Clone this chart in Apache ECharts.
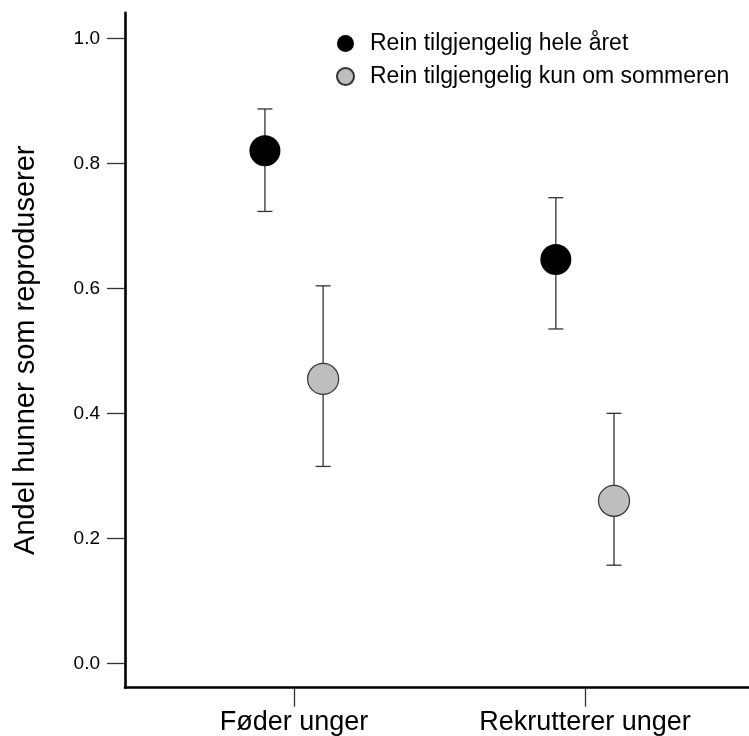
<!DOCTYPE html>
<html>
<head>
<meta charset="utf-8">
<script src="https://cdn.jsdelivr.net/npm/echarts@6/dist/echarts.min.js"></script>
<style>html,body{margin:0;padding:0;background:#fff}#c{width:749px;height:736px}</style>
</head>
<body>
<div id="c"></div>
<script>
const categories = ["Føder unger", "Rekrutterer unger"];
const seriesNames = ["Rein tilgjengelig hele året", "Rein tilgjengelig kun om sommeren"];
const yearRoundMean = [0.82, 0.646];
const yearRoundLower = [0.723, 0.535];
const yearRoundUpper = [0.887, 0.745];
const summerMean = [0.455, 0.26];
const summerLower = [0.315, 0.157];
const summerUpper = [0.604, 0.40];
const yTicks = [0.0, 0.2, 0.4, 0.6, 0.8, 1.0];
const dodge = 0.1;

const chart = echarts.init(document.getElementById('c'), null, {renderer: 'canvas'});
const FONT = 'Liberation Sans, Arial, sans-serif';

function pts(means, off) {
  return means.map((v, i) => [i + 1 + off, v]);
}
function bars(lo, hi, off) {
  return lo.map((v, i) => [i + 1 + off, v, hi[i]]);
}
function errRender(params, api) {
  const x = api.value(0);
  const p1 = api.coord([x, api.value(1)]);
  const p2 = api.coord([x, api.value(2)]);
  const hw = 7.5;
  const st = {stroke: '#333', lineWidth: 1.3};
  return {
    type: 'group',
    children: [
      {type: 'line', shape: {x1: p1[0], y1: p1[1], x2: p2[0], y2: p2[1]}, style: st},
      {type: 'line', shape: {x1: p1[0] - hw, y1: p1[1], x2: p1[0] + hw, y2: p1[1]}, style: st},
      {type: 'line', shape: {x1: p2[0] - hw, y1: p2[1], x2: p2[0] + hw, y2: p2[1]}, style: st}
    ]
  };
}

chart.setOption({
  animation: false,
  backgroundColor: '#fff',
  grid: {left: 125, right: 0, top: 12.7, bottom: 48.3, containLabel: false},
  legend: {
    orient: 'vertical',
    left: 331,
    top: 27,
    itemWidth: 17,
    itemHeight: 17,
    itemGap: 10,
    data: seriesNames,
    textStyle: {fontFamily: FONT, fontSize: 23, color: '#000', padding: [0, 0, 0, 11]}
  },
  xAxis: {
    type: 'value',
    min: 0.419,
    max: 2.564,
    splitLine: {show: false},
    axisLine: {show: true, onZero: false, lineStyle: {color: '#000', width: 2.6}},
    axisTick: {show: true, length: 19, customValues: [1, 2], lineStyle: {color: '#333', width: 1.3}},
    axisLabel: {
      show: true, margin: 21, customValues: [1, 2],
      formatter: v => categories[Math.round(v) - 1] || '',
      fontFamily: FONT, fontSize: 27, color: '#000'
    }
  },
  yAxis: {
    type: 'value',
    min: -0.039,
    max: 1.041,
    name: 'Andel hunner som reproduserer',
    nameLocation: 'middle',
    nameGap: 85,
    nameTextStyle: {fontFamily: FONT, fontSize: 29, color: '#000'},
    splitLine: {show: false},
    axisLine: {show: true, onZero: false, lineStyle: {color: '#000', width: 2.6}},
    axisTick: {show: true, length: 18, customValues: yTicks, lineStyle: {color: '#333', width: 1.3}},
    axisLabel: {
      show: true, margin: 25, customValues: yTicks,
      formatter: v => v.toFixed(1),
      fontFamily: FONT, fontSize: 19, color: '#000'
    }
  },
  series: [
    {type: 'custom', name: 'err1', renderItem: errRender, data: bars(yearRoundLower, yearRoundUpper, -dodge), z: 1, silent: true},
    {type: 'custom', name: 'err2', renderItem: errRender, data: bars(summerLower, summerUpper, dodge), z: 1, silent: true},
    {type: 'scatter', name: seriesNames[0], data: pts(yearRoundMean, -dodge), symbol: 'circle', symbolSize: 31,
     itemStyle: {color: '#000', borderColor: '#000', borderWidth: 0, opacity: 1}, z: 3},
    {type: 'scatter', name: seriesNames[1], data: pts(summerMean, dodge), symbol: 'circle', symbolSize: 31,
     itemStyle: {color: '#bebebe', borderColor: '#333', borderWidth: 1.2, opacity: 1}, z: 3}
  ]
});
</script>
</body>
</html>
